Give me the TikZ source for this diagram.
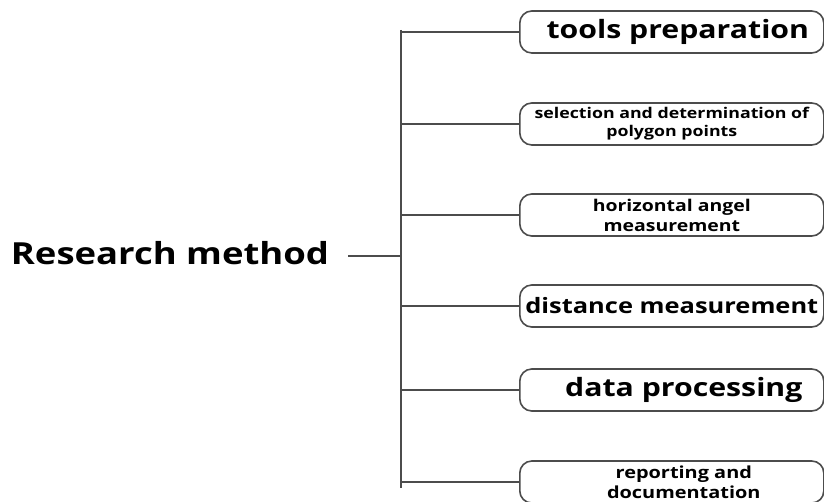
\documentclass[tikz,border=0pt]{standalone}
\usepackage{fontspec}
\setmainfont[FakeStretch=1.2]{Open Sans}
\usepackage{tikz}

\tikzset{
  stepbox/.style={draw=black!70,line width=0.8pt,rounded corners=6pt,anchor=west,
    minimum width=152pt,minimum height=21pt,inner sep=0pt,align=center,font=\bfseries},
  bigtxt/.style={font=\bfseries\fontsize{12.6}{14}\selectfont},
  smalltxt/.style={font=\bfseries\fontsize{8.1}{10}\selectfont},
  trunk/.style={draw=black!70,line width=1pt}
}

\begin{document}
\begin{tikzpicture}[x=0.5pt,y=-0.5pt]
        \useasboundingbox (0,0) rectangle (824,502);
        \node(rm)at(170,253){\bfseries\fontsize{15.2}{17}\selectfont Research method};
        \coordinate(top)at(401,30);
        \coordinate(bot)at(401,488);
        \coordinate(j)at(401,256);
        \node [stepbox,bigtxt](a)at(519,32){\hspace*{6pt}tools preparation};
        \node [stepbox,smalltxt,font=\bfseries\fontsize{7.4}{9}\selectfont](b)at(519,124){selection and determination of\\polygon points};
        \node [stepbox,smalltxt](c)at(519,215){horizontal angel\\measurement};
        \node [stepbox,bigtxt,font=\bfseries\fontsize{10.6}{12}\selectfont](d)at(519,306){distance measurement};
        \node [stepbox,bigtxt](e)at(519,390){\hspace*{12pt}data processing};
        \node [stepbox,smalltxt,font=\bfseries\fontsize{8.3}{10}\selectfont](f)at(519,482){\hspace*{12pt}reporting and\\\hspace*{12pt}documentation};
        \draw[trunk](top)--(bot);
        \draw[trunk,shorten <=6pt](rm.east |- j)--(j);
        \draw[trunk](a.west -| top)--(a.west);
        \draw[trunk](b.west -| top)--(b.west);
        \draw[trunk](c.west -| top)--(c.west);
        \draw[trunk](d.west -| top)--(d.west);
        \draw[trunk](e.west -| top)--(e.west);
        \draw[trunk](f.west -| top)--(f.west);
        \end{tikzpicture}
\end{document}
